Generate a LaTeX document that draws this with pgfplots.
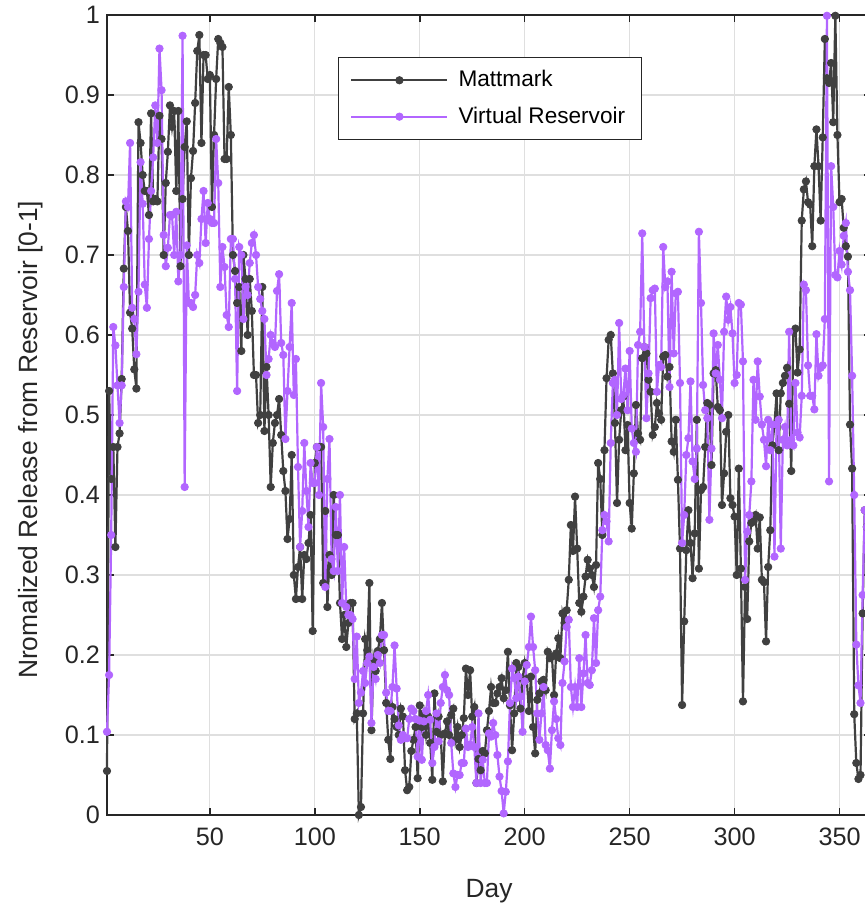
\documentclass[border=0pt]{standalone}
\usepackage{fontspec}
\setmainfont{Liberation Sans}
\usepackage{pgfplots}
\usepackage{pgfplotstable}
\pgfplotsset{compat=1.18}
\usetikzlibrary{calc}
\definecolor{mattcol}{RGB}{64,64,64}
\definecolor{vrcol}{RGB}{178,102,255}
\definecolor{axcol}{RGB}{38,38,38}
\definecolor{gridcol}{RGB}{223,223,223}

\pgfplotstableread{
day M V
1 0.055 0.104
2 0.53 0.175
3 0.42 0.35
4 0.46 0.61
5 0.335 0.587
6 0.46 0.537
7 0.477 0.49
8 0.545 0.537
9 0.683 0.66
10 0.76 0.767
11 0.73 0.76
12 0.628 0.84
13 0.608 0.634
14 0.557 0.62
15 0.533 0.576
16 0.866 0.654
17 0.84 0.816
18 0.80 0.764
19 0.78 0.663
20 0.78 0.634
21 0.75 0.72
22 0.877 0.78
23 0.767 0.822
24 0.77 0.887
25 0.767 0.84
26 0.874 0.958
27 0.845 0.906
28 0.70 0.725
29 0.79 0.686
30 0.829 0.709
31 0.887 0.75
32 0.86 0.75
33 0.88 0.70
34 0.78 0.754
35 0.88 0.667
36 0.686 0.70
37 0.77 0.974
38 0.835 0.41
39 0.867 0.712
40 0.70 0.64
41 0.796 0.64
42 0.83 0.635
43 0.89 0.65
44 0.955 0.70
45 0.975 0.69
46 0.84 0.745
47 0.95 0.78
48 0.95 0.715
49 0.92 0.765
50 0.925 0.745
51 0.76 0.74
52 0.85 0.74
53 0.92 0.845
54 0.97 0.79
55 0.965 0.66
56 0.96 0.71
57 0.82 0.685
58 0.82 0.625
59 0.91 0.61
60 0.85 0.72
61 0.70 0.72
62 0.68 0.67
63 0.64 0.53
64 0.66 0.71
65 0.58 0.70
66 0.70 0.62
67 0.67 0.66
68 0.60 0.65
69 0.67 0.69
70 0.63 0.715
71 0.55 0.725
72 0.55 0.70
73 0.49 0.66
74 0.50 0.645
75 0.66 0.63
76 0.48 0.62
77 0.56 0.55
78 0.50 0.57
79 0.41 0.60
80 0.465 0.59
81 0.49 0.585
82 0.50 0.655
83 0.52 0.676
84 0.475 0.59
85 0.43 0.575
86 0.405 0.47
87 0.345 0.53
88 0.37 0.585
89 0.45 0.64
90 0.30 0.525
91 0.27 0.57
92 0.31 0.435
93 0.335 0.335
94 0.27 0.38
95 0.325 0.465
96 0.32 0.405
97 0.34 0.36
98 0.375 0.44
99 0.23 0.415
100 0.44 0.415
101 0.46 0.46
102 0.46 0.40
103 0.46 0.54
104 0.29 0.485
105 0.38 0.285
106 0.26 0.42
107 0.325 0.47
108 0.30 0.32
109 0.40 0.305
110 0.35 0.385
111 0.35 0.305
112 0.265 0.40
113 0.22 0.265
114 0.25 0.335
115 0.21 0.26
116 0.24 0.25
117 0.265 0.25
118 0.265 0.245
119 0.12 0.17
120 0.127 0.223
121 0.0 0.14
122 0.01 0.153
123 0.127 0.18
124 0.22 0.165
125 0.206 0.19
126 0.29 0.198
127 0.106 0.115
128 0.195 0.185
129 0.18 0.17
130 0.205 0.2
131 0.22 0.19
132 0.265 0.225
133 0.206 0.225
134 0.14 0.153
135 0.094 0.13
136 0.07 0.13
137 0.135 0.16
138 0.12 0.212
139 0.11 0.158
140 0.10 0.112
141 0.133 0.094
142 0.123 0.10
143 0.056 0.096
144 0.031 0.096
145 0.035 0.12
146 0.08 0.133
147 0.094 0.13
148 0.11 0.12
149 0.046 0.073
150 0.137 0.118
151 0.11 0.069
152 0.127 0.117
153 0.10 0.13
154 0.123 0.15
155 0.09 0.119
156 0.044 0.065
157 0.152 0.085
158 0.104 0.127
159 0.123 0.092
160 0.10 0.14
161 0.042 0.16
162 0.102 0.175
163 0.117 0.156
164 0.10 0.15
165 0.125 0.09
166 0.133 0.052
167 0.094 0.035
168 0.11 0.05
169 0.085 0.05
170 0.10 0.065
171 0.121 0.065
172 0.183 0.108
173 0.15 0.085
174 0.181 0.088
175 0.123 0.11
176 0.135 0.085
177 0.04 0.04
178 0.07 0.127
179 0.056 0.04
180 0.08 0.069
181 0.077 0.04
182 0.106 0.04
183 0.13 0.102
184 0.16 0.098
185 0.14 0.115
186 0.14 0.10
187 0.152 0.075
188 0.16 0.048
189 0.171 0.03
190 0.146 0.002
191 0.156 0.029
192 0.204 0.067
193 0.137 0.14
194 0.081 0.183
195 0.127 0.171
196 0.19 0.146
197 0.185 0.173
198 0.133 0.148
199 0.17 0.104
200 0.19 0.167
201 0.17 0.1875
202 0.13 0.21
203 0.173 0.248
204 0.11 0.21
205 0.077 0.181
206 0.144 0.127
207 0.152 0.094
208 0.167 0.127
209 0.169 0.16
210 0.156 0.0875
211 0.204 0.081
212 0.196 0.058
213 0.198 0.106
214 0.15 0.142
215 0.202 0.12
216 0.221 0.096
217 0.196 0.0875
218 0.252 0.165
219 0.24 0.192
220 0.256 0.235
221 0.294 0.244
222 0.3625 0.16
223 0.33 0.135
224 0.398 0.16
225 0.333 0.135
226 0.265 0.196
227 0.254 0.135
228 0.273 0.177
229 0.298 0.225
230 0.319 0.165
231 0.308 0.1625
232 0.30 0.181
233 0.285 0.246
234 0.3125 0.19
235 0.44 0.256
236 0.42 0.273
237 0.35 0.356
238 0.456 0.375
239 0.546 0.367
240 0.594 0.342
241 0.60 0.465
242 0.552 0.54
243 0.49 0.544
244 0.39 0.50
245 0.469 0.615
246 0.506 0.52
247 0.523 0.525
248 0.456 0.558
249 0.4875 0.506
250 0.39 0.58
251 0.358 0.483
252 0.427 0.465
253 0.5125 0.454
254 0.477 0.5875
255 0.469 0.604
256 0.571 0.727
257 0.585 0.585
258 0.577 0.496
259 0.544 0.552
260 0.529 0.646
261 0.475 0.656
262 0.485 0.658
263 0.515 0.529
264 0.502 0.5625
265 0.494 0.56
266 0.573 0.71
267 0.575 0.66
268 0.548 0.667
269 0.56 0.535
270 0.467 0.679
271 0.454 0.577
272 0.494 0.652
273 0.419 0.654
274 0.333 0.54
275 0.1375 0.34
276 0.242 0.375
277 0.331 0.45
278 0.381 0.471
279 0.340 0.542
280 0.296 0.442
281 0.352 0.42
282 0.494 0.458
283 0.308 0.729
284 0.406 0.64
285 0.41 0.5375
286 0.46 0.506
287 0.515 0.496
288 0.5125 0.369
289 0.4375 0.458
290 0.552 0.602
291 0.556 0.552
292 0.51 0.5875
293 0.506 0.544
294 0.3875 0.496
295 0.427 0.604
296 0.479 0.648
297 0.5 0.619
298 0.396 0.635
299 0.3875 0.602
300 0.373 0.54
301 0.30 0.55
302 0.433 0.64
303 0.308 0.638
304 0.142 0.567
305 0.285 0.294
306 0.245 0.354
307 0.342 0.375
308 0.365 0.417
309 0.367 0.544
310 0.375 0.494
311 0.333 0.567
312 0.372 0.523
313 0.294 0.488
314 0.291 0.469
315 0.217 0.436
316 0.31 0.494
317 0.356 0.456
318 0.462 0.488
319 0.488 0.323
320 0.527 0.488
321 0.456 0.494
322 0.527 0.333
323 0.54 0.469
324 0.549 0.485
325 0.559 0.462
326 0.514 0.604
327 0.43 0.469
328 0.604 0.462
329 0.608 0.54
330 0.553 0.478
331 0.582 0.472
332 0.743 0.524
333 0.782 0.663
334 0.792 0.656
335 0.766 0.562
336 0.763 0.524
337 0.711 0.524
338 0.811 0.507
339 0.857 0.601
340 0.811 0.549
341 0.743 0.559
342 0.847 0.562
343 0.97 0.62
344 0.921 0.999
345 0.915 0.417
346 0.94 0.811
347 0.866 0.76
348 0.999 0.675
349 0.85 0.672
350 0.766 0.705
351 0.77 0.688
352 0.734 0.724
353 0.711 0.74
354 0.698 0.679
355 0.488 0.656
356 0.433 0.549
357 0.126 0.40
358 0.065 0.213
359 0.045 0.162
360 0.05 0.14
361 0.252 0.275
362 0.381 0.381
363 0.36 0.36
364 0.34 0.33
365 0.35 0.35
}\data

\begin{document}
\begin{tikzpicture}
\begin{axis}[
  scale only axis, width=382pt, height=400pt,
  xmin=1, xmax=365, ymin=0, ymax=1,
  clip=false,
  xtick={50,100,150,200,250,300,350},
  ytick={0,0.1,0.2,0.3,0.4,0.5,0.6,0.7,0.8,0.9,1},
  yticklabels={0,0.1,0.2,0.3,0.4,0.5,0.6,0.7,0.8,0.9,1},
  /pgf/number format/assume math mode=true,
  tick align=inside,
  major tick length=3.5pt,
  every tick/.style={draw=axcol, line width=0.8pt},
  axis line style={draw=axcol, line width=0.8pt},
  grid=major,
  major grid style={draw=gridcol, line width=0.6pt},
  tick label style={font=\fontsize{12.6}{14}\selectfont, text=axcol},
  xticklabel style={yshift=-3pt},
  label style={font=\fontsize{13.2}{15}\selectfont, text=axcol},
  xlabel={Day},
  ylabel={Nromalized Release from Reservoir [0-1]},
  xlabel style={at={(rel axis cs:0.5,0)}, anchor=base, yshift=-41pt},
  ylabel style={at={($(rel axis cs:0,0.469)+(-34.5pt,0pt)$)}, anchor=base},
  legend cell align=left,
  legend image code/.code={\draw[mark repeat=2,mark phase=2,#1] plot coordinates {(0pt,0pt) (24pt,0pt) (48pt,0pt)};},
  legend style={at={(rel axis cs:0.302,0.9475)}, anchor=north west, draw=axcol, line width=0.6pt, fill=white,
    font=\fontsize{11.3}{13}\selectfont, inner xsep=6pt, inner ysep=4.5pt, row sep=4.5pt,
    /tikz/every odd column/.append style={column sep=3pt}},
]
\addplot[mattcol, line width=1.1pt, mark=*, mark size=1.85pt, mark options={solid, fill=mattcol, draw=mattcol, line width=0.4pt}] table[x=day, y=M]{\data};
\addlegendentry{Mattmark}
\addplot[vrcol, line width=1.1pt, mark=*, mark size=1.85pt, mark options={solid, fill=vrcol, draw=vrcol, line width=0.4pt}] table[x=day, y=V]{\data};
\addlegendentry{Virtual Reservoir}
\coordinate (BL) at (rel axis cs:0,0);
\coordinate (TL) at (rel axis cs:0,1);
\end{axis}
\pgfresetboundingbox
\path[use as bounding box] ([xshift=-53.5pt,yshift=-46.5pt]BL) rectangle ([xshift=378.5pt,yshift=7.5pt]TL);
\end{tikzpicture}
\end{document}
